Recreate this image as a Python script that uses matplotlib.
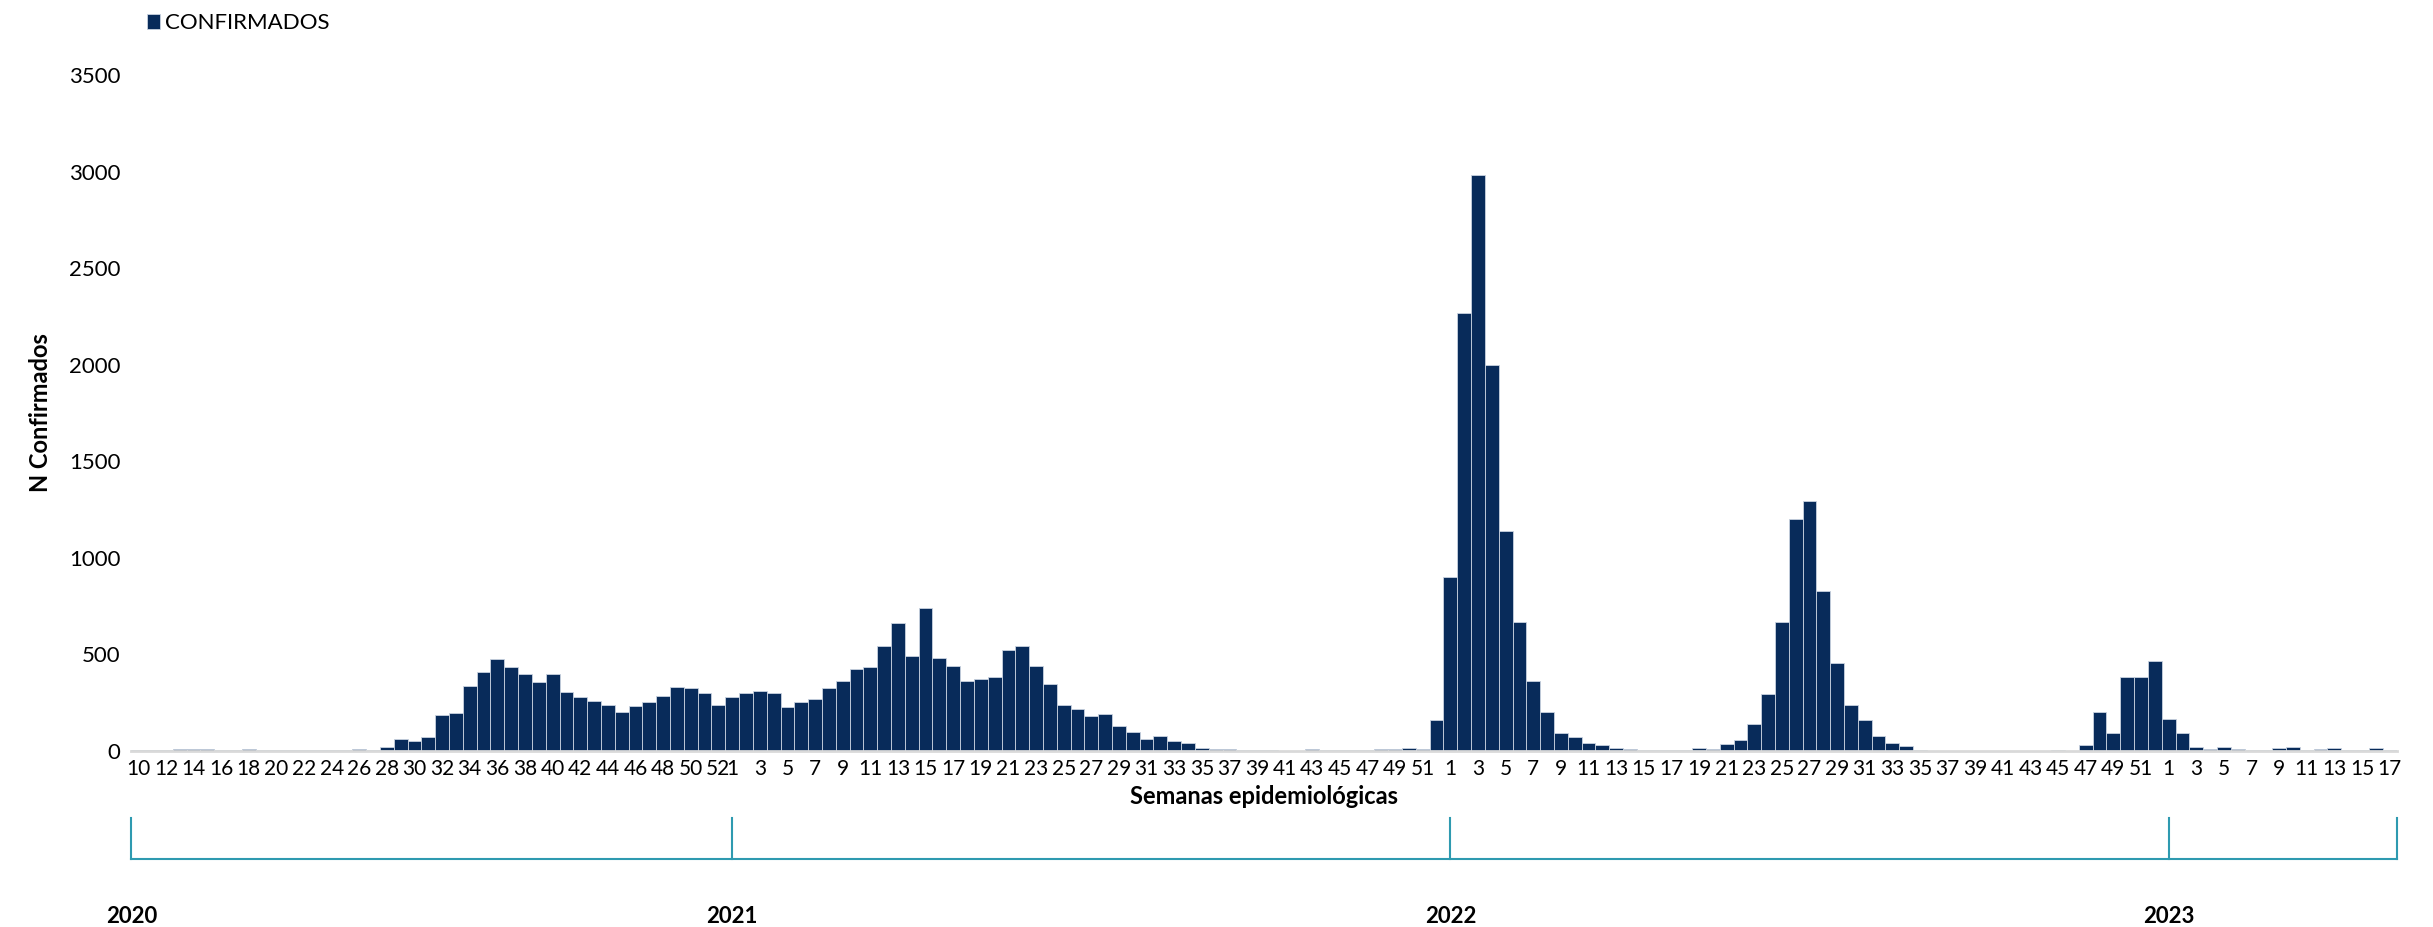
import matplotlib
matplotlib.use("Agg")
import matplotlib.pyplot as plt
import matplotlib.transforms as mtransforms
import numpy as np

plt.rcParams['font.family'] = ['Lato', 'DejaVu Sans']

weeks_2020 = list(range(10, 53))
vals_2020 = [2,3,2,8,12,12,2,4,10,2,2,3,5,5,5,2,10,5,20,60,50,70,185,195,335,410,475,435,400,355,
             400,305,280,260,240,200,230,255,285,330,325,300,235]
weeks_2021 = list(range(1, 53))
vals_2021 = [280,300,310,300,225,255,270,325,360,425,435,545,660,490,740,480,440,360,370,380,
             525,545,440,345,240,215,180,190,130,100,60,75,50,40,15,10,10,2,5,5,0,0,8,2,5,3,4,8,12,15,8,160]
weeks_2022 = list(range(1, 53))
vals_2022 = [900,2270,2985,2000,1140,670,360,200,90,70,40,30,15,10,2,5,5,2,15,12,35,55,140,295,665,
             1200,1295,830,455,240,160,75,40,25,5,0,0,0,0,0,0,0,0,0,5,0,30,200,95,385,380,465]
weeks_2023 = list(range(1, 18))
vals_2023 = [165,95,20,10,20,8,5,2,15,18,5,10,15,2,3,15,3]
years = ["2020", "2021", "2022", "2023"]

weeks = weeks_2020 + weeks_2021 + weeks_2022 + weeks_2023
vals = vals_2020 + vals_2021 + vals_2022 + vals_2023
x = np.arange(len(vals))
color = "#082B5A"

fig = plt.figure(figsize=(24.33, 9.27), dpi=100)
ax = fig.add_axes([0.054, 0.19, 0.931, 0.729])
bars = ax.bar(x, vals, width=1.0, color=color, edgecolor="#C9D3E0", linewidth=0.6, label="CONFIRMADOS")
ax.set_xlim(-0.5, len(vals) - 0.5)
ax.set_ylim(0, 3500)
ax.set_yticks(range(0, 3501, 500))
idx = []
start = 0
for seg in [weeks_2020, weeks_2021, weeks_2022, weeks_2023]:
    idx += [start + j for j in range(0, len(seg), 2)]
    start += len(seg)
ax.set_xticks(idx)
ax.set_xticklabels([str(weeks[i]) for i in idx], fontsize=15)
ax.tick_params(axis='x', length=0, pad=6)
ax.tick_params(axis='y', length=0, labelsize=16, pad=8)
for s in ["top", "right", "left"]:
    ax.spines[s].set_visible(False)
ax.spines["bottom"].set_color("#D9D9D9")
ax.spines["bottom"].set_linewidth(2)
ax.set_ylabel("N Confirmados", fontsize=17, fontweight="bold", labelpad=12)
ax.set_xlabel("Semanas epidemiológicas", fontsize=17, fontweight="bold", labelpad=4)
fig.legend(handles=[bars], labels=["CONFIRMADOS"], loc="upper left", bbox_to_anchor=(0.055, 1.0),
           frameon=False, fontsize=16, handlelength=0.6, handleheight=0.6, handletextpad=0.2,
           borderaxespad=0.2)

trans = mtransforms.blended_transform_factory(ax.transData, fig.transFigure)
x0 = -0.5
x1 = len(vals) - 0.5
line_y = 1 - 553 / 597
top_y = 1 - 527 / 597
year_y = 1 - 590 / 597
ax.plot([x0, x1], [line_y, line_y], transform=trans, color="#2E9AB0", lw=1.5, clip_on=False)
ypos = [x0, len(weeks_2020), len(weeks_2020) + len(weeks_2021),
        len(weeks_2020) + len(weeks_2021) + len(weeks_2022)]
for xp in ypos + [x1]:
    ax.plot([xp, xp], [line_y, top_y], transform=trans, color="#2E9AB0", lw=1.5, clip_on=False)
for xp, yr in zip(ypos, years):
    ax.text(xp, year_y, yr, transform=trans, ha="center", va="center", fontsize=16, fontweight="bold")

fig.savefig("out.png", dpi=100)
